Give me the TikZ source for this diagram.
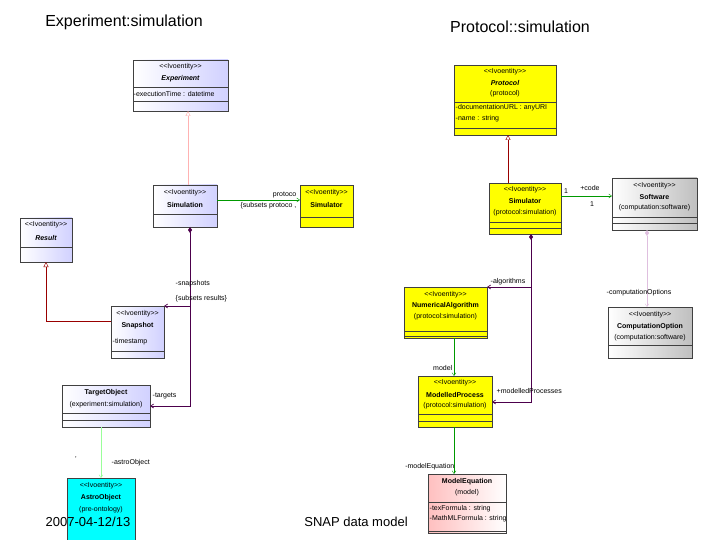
\documentclass[tikz,border=0pt]{standalone}
\usepackage{fontspec}
\setmainfont{Liberation Sans}
\usetikzlibrary{arrows.meta}
\definecolor{brcyan}{RGB}{0,255,255}
\definecolor{bryel}{RGB}{255,255,0}
\newcommand{\ubox}[6]{\node[#2, anchor=north west, minimum width={(#5-#3)*1pt}, minimum height={(#6-#4)*1pt}] (#1) at (#3,#4) {};}
\newcommand{\udiv}[2]{\draw[boxline] (#1.west |- 0,#2) -- (#1.east |- 0,#2);}
\newcommand{\ster}{<{}<Ivoentity>{}>}
\begin{document}
\begin{tikzpicture}[x=1pt,y=-1pt,
  boxline/.style={draw=black!75, line width=0.6pt},
  base/.style={boxline, inner sep=0pt, outer sep=0pt},
  lav/.style={base, left color=white, right color=blue!18!white},
  yel/.style={base, fill=bryel},
  gry/.style={base, left color=white, right color=black!25},
  pnk/.style={base, left color=red!25, right color=white},
  cy/.style={base, fill=brcyan},
  txt/.style={font=\fontsize{7}{8}\selectfont, inner sep=0.5pt, align=center},
  btxt/.style={txt, font=\fontsize{7}{8}\selectfont\bfseries},
  lbl/.style={font=\fontsize{7}{8}\selectfont, inner sep=0.5pt},
  gen/.style={-{Triangle[open,length=5pt,width=5pt]}},
  nav/.style={-{Straight Barb[length=3pt,width=4pt]}},
  comp/.style={{Diamond[length=6pt,width=4pt]}-{Straight Barb[length=3pt,width=4pt]}},
  title/.style={font=\fontsize{16}{18}\selectfont, inner sep=0pt},
  foot/.style={font=\fontsize{13}{15}\selectfont, inner sep=0pt},
]
\useasboundingbox (0,0) rectangle (720,540);
\node[title] (t1) at (124,22) {Experiment:simulation};
\node[title] (t2) at (520,27) {Protocol::simulation};

% left side boxes
\ubox{exp}{lav}{133}{60}{228}{111}
\udiv{exp}{87}\udiv{exp}{101}
\node[txt] (expa) at (180.5,67) {\ster};
\node[btxt] (expb) at (180.5,79) {\itshape Experiment};
\node[txt, anchor=west] (expc) at (133,94) {-executionTime : datetime};

\ubox{sim}{lav}{153}{185}{217}{227}
\udiv{sim}{214}
\node[txt] (sima) at (185,193) {\ster};
\node[btxt] (simb) at (185,205) {Simulation};

\ubox{simr}{yel}{300}{185}{353}{227}
\udiv{simr}{217}
\node[txt] (simra) at (326.5,193) {\ster};
\node[btxt] (simrb) at (326.5,205) {Simulator};

\ubox{res}{lav}{20}{218}{72}{262}
\udiv{res}{247}
\node[txt] (resa) at (46,225) {\ster};
\node[btxt] (resb) at (46,238) {\itshape Result};

\ubox{snap}{lav}{111}{306}{164}{358}
\udiv{snap}{351}
\node[txt] (snapa) at (137.5,314) {\ster};
\node[btxt] (snapb) at (137.5,326) {Snapshot};
\node[txt, anchor=west] (snapc) at (112,342) {-timestamp};

\ubox{tgt}{lav}{62}{385}{150}{427}
\udiv{tgt}{413}\udiv{tgt}{420}
\node[btxt] (tgta) at (106,393) {TargetObject};
\node[txt] (tgtb) at (106,405) {(experiment:simulation)};

\ubox{astro}{cy}{67}{478}{135}{540}
\node[txt] (astroa) at (101,486) {\ster};
\node[btxt] (astrob) at (101,498) {AstroObject};
\node[txt] (astroc) at (101,510) {(pre-ontology)};

% right side boxes
\ubox{prot}{yel}{454}{65}{556}{135}
\udiv{prot}{102}\udiv{prot}{128}
\node[txt] (prota) at (505,72) {\ster};
\node[btxt] (protb) at (505,83) {\itshape Protocol};
\node[txt] (protc) at (505,94) {(protocol)};
\node[txt, anchor=west] (protd) at (455,108) {-documentationURL : anyURI};
\node[txt, anchor=west] (prote) at (455,119) {-name : string};

\ubox{sim2}{yel}{489}{183}{561}{234}
\udiv{sim2}{222}\udiv{sim2}{228}
\node[txt] (sim2a) at (525,190) {\ster};
\node[btxt] (sim2b) at (525,201) {Simulator};
\node[txt] (sim2c) at (525,213) {(protocol:simulation)};

\ubox{soft}{gry}{612}{178}{697}{230}
\udiv{soft}{217}\udiv{soft}{223}
\node[txt] (softa) at (654.5,186) {\ster};
\node[btxt] (softb) at (654.5,197) {Software};
\node[txt] (softc) at (654.5,208) {(computation:software)};

\ubox{num}{yel}{404}{287}{487}{338}
\udiv{num}{331}\udiv{num}{336}
\node[txt] (numa) at (445.5,295) {\ster};
\node[btxt] (numb) at (445.5,306) {NumericalAlgorithm};
\node[txt] (numc) at (445.5,317) {(protocol:simulation)};

\ubox{copt}{gry}{608}{307}{692}{358}
\udiv{copt}{345}
\node[txt] (copta) at (650,315) {\ster};
\node[btxt] (coptb) at (650,327) {ComputationOption};
\node[txt] (coptc) at (650,338) {(computation:software)};

\ubox{mp}{yel}{418}{376}{492}{427}
\udiv{mp}{414}\udiv{mp}{421}
\node[txt] (mpa) at (455,383) {\ster};
\node[btxt] (mpb) at (455,395) {ModelledProcess};
\node[txt] (mpc) at (455,406) {(protocol:simulation)};

\ubox{meq}{pnk}{428}{474}{506}{533}
\udiv{meq}{502}\udiv{meq}{531}
\node[btxt] (meqa) at (467,482) {ModelEquation};
\node[txt] (meqb) at (467,493) {(model)};
\node[txt, anchor=west] (meqc) at (429,509) {-texFormula : string};
\node[txt, anchor=west] (meqd) at (429,519) {-MathMLFormula : string};

% connectors
\draw[gen, draw=red!30] (sim.north -| 188,0) -- (exp.south -| 188,0);
\draw[nav, draw=green!60!black] (sim.east |- 0,200) -- (simr.west |- 0,200);
\node[lbl, anchor=south east] (l1) at (297,199) {protoco};
\node[lbl, anchor=north east] (l2) at (297,202) {\{subsets protoco ,};
\coordinate (c1) at (190,306);
\coordinate (c2) at (190,406);
\draw[comp, draw=violet!60!black, line width=0.7pt] (sim.south -| 190,0) -- (c1) -- (snap.east |- c1);
\draw[nav, draw=violet!60!black, line width=0.7pt] (c1) -- (c2) -- (tgt.east |- c2);
\node[lbl, anchor=west] (l3) at (175,284) {-snapshots};
\node[lbl, anchor=west] (l4) at (175,299) {\{subsets results\}};
\node[lbl, anchor=west] (l5) at (152,396) {-targets};
\coordinate (c3) at (46,321);
\draw[gen, draw=red!60!black] (snap.west |- c3) -- (c3) -- (res.south -| c3);
\draw[nav, draw=green!40] (tgt.south -| 101,0) -- (astro.north -| 101,0);
\node[lbl, anchor=west] (l6) at (111,463) {-astroObject};
\node[lbl] (l6b) at (76,459) {'};

\draw[gen, draw=red!60!black] (sim2.north -| 508,0) -- (prot.south -| 508,0);
\draw[nav, draw=green!60!black] (sim2.east |- 0,196) -- (soft.west |- 0,196);
\node[lbl] (l7) at (590,188) {+code};
\node[lbl] (l8) at (566,191) {1};
\node[lbl] (l9) at (592,204) {1};
\coordinate (c4) at (531,287);
\coordinate (c5) at (531,402);
\draw[comp, draw=violet!60!black, line width=0.7pt] (sim2.south -| c4) -- (c4) -- (num.east |- c4);
\draw[nav, draw=violet!60!black, line width=0.7pt] (c4) -- (c5) -- (mp.east |- c5);
\node[lbl, anchor=west] (l10) at (490,282) {-algorithms};
\node[lbl, anchor=west] (l11) at (496,391) {+modelledProcesses};
\draw[comp, draw=violet!25] (soft.south -| 647,0) -- (copt.north -| 647,0);
\node[lbl, anchor=west] (l12) at (606,293) {-computationOptions};
\draw[nav, draw=green!60!black] (num.south -| 454,0) -- (mp.north -| 454,0);
\node[lbl, anchor=east] (l13) at (453,368) {model};
\draw[nav, draw=green!60!black] (mp.south -| 454,0) -- (meq.north -| 454,0);
\node[lbl, anchor=east] (l14) at (455,467) {-modelEquation};

\node[foot] (f1) at (88,522) {2007-04-12/13};
\node[foot] (f2) at (356,522) {SNAP data model};
\end{tikzpicture}
\end{document}
